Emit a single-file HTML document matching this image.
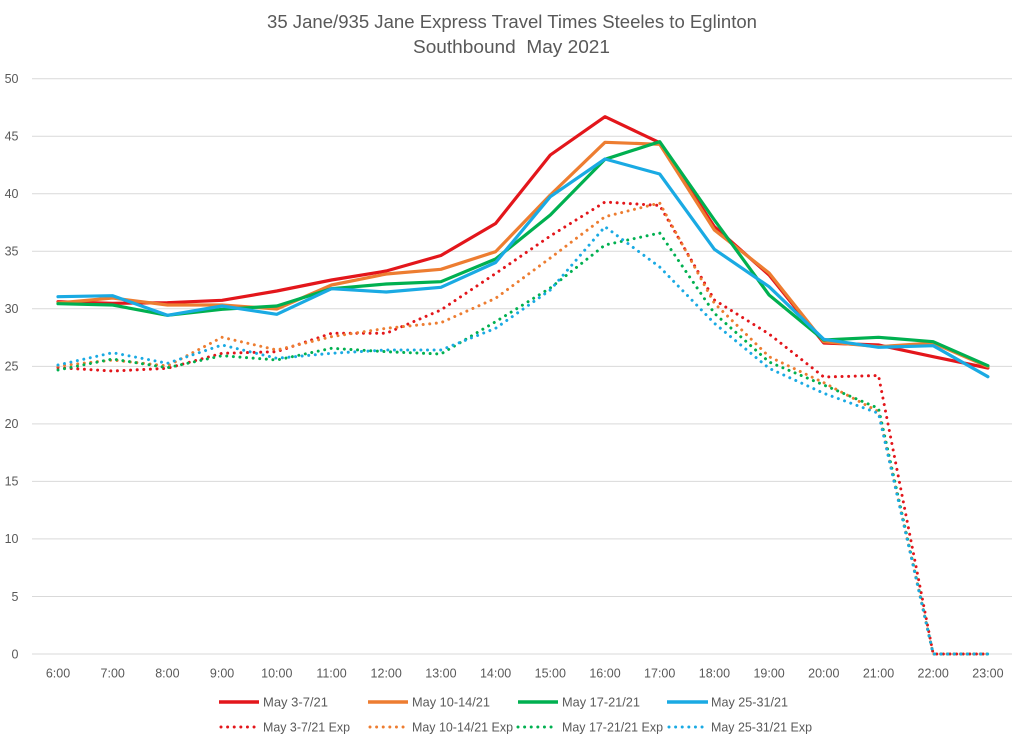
<!DOCTYPE html>
<html><head><meta charset="utf-8"><style>
html,body{margin:0;padding:0;background:#fff;}
svg{display:block;}
text{font-family:"Liberation Sans",sans-serif;fill:#595959;}
</style></head><body>
<svg width="1024" height="745" viewBox="0 0 1024 745" xmlns="http://www.w3.org/2000/svg">
<rect width="1024" height="745" fill="#fff"/>
<text x="267" y="28" font-size="18" textLength="490" lengthAdjust="spacingAndGlyphs">35 Jane/935 Jane Express Travel Times Steeles to Eglinton</text>
<text x="413" y="53" font-size="18" textLength="197" lengthAdjust="spacingAndGlyphs" xml:space="preserve">Southbound  May 2021</text>
<g stroke="#d9d9d9" stroke-width="1">
<line x1="32" y1="78.7" x2="1012" y2="78.7"/>
<line x1="32" y1="136.2" x2="1012" y2="136.2"/>
<line x1="32" y1="193.8" x2="1012" y2="193.8"/>
<line x1="32" y1="251.3" x2="1012" y2="251.3"/>
<line x1="32" y1="308.8" x2="1012" y2="308.8"/>
<line x1="32" y1="366.4" x2="1012" y2="366.4"/>
<line x1="32" y1="423.9" x2="1012" y2="423.9"/>
<line x1="32" y1="481.4" x2="1012" y2="481.4"/>
<line x1="32" y1="538.9" x2="1012" y2="538.9"/>
<line x1="32" y1="596.5" x2="1012" y2="596.5"/>
<line x1="32" y1="654" x2="1012" y2="654"/>
</g>
<g font-size="12.5" text-anchor="end">
<text x="18.5" y="83">50</text>
<text x="18.5" y="140.5">45</text>
<text x="18.5" y="198.1">40</text>
<text x="18.5" y="255.6">35</text>
<text x="18.5" y="313.1">30</text>
<text x="18.5" y="370.7">25</text>
<text x="18.5" y="428.2">20</text>
<text x="18.5" y="485.7">15</text>
<text x="18.5" y="543.2">10</text>
<text x="18.5" y="600.8">5</text>
<text x="18.5" y="658.3">0</text>
</g>
<g font-size="12.5" text-anchor="middle">
<text x="58" y="677.5">6:00</text>
<text x="112.7" y="677.5">7:00</text>
<text x="167.4" y="677.5">8:00</text>
<text x="222.1" y="677.5">9:00</text>
<text x="276.8" y="677.5">10:00</text>
<text x="331.5" y="677.5">11:00</text>
<text x="386.2" y="677.5">12:00</text>
<text x="440.9" y="677.5">13:00</text>
<text x="495.6" y="677.5">14:00</text>
<text x="550.3" y="677.5">15:00</text>
<text x="605" y="677.5">16:00</text>
<text x="659.7" y="677.5">17:00</text>
<text x="714.4" y="677.5">18:00</text>
<text x="769.1" y="677.5">19:00</text>
<text x="823.8" y="677.5">20:00</text>
<text x="878.5" y="677.5">21:00</text>
<text x="933.2" y="677.5">22:00</text>
<text x="987.9" y="677.5">23:00</text>
</g>
<g fill="none" stroke-width="3.2" stroke-linejoin="round" stroke-linecap="round">
<polyline stroke="#E3161B" points="58,301.7 112.7,303.3 167.4,302.7 222.1,300.3 276.8,291 331.5,280 386.2,271 440.9,255.5 495.6,223.5 550.3,155 605,116.7 659.7,142.7 714.4,226.7 769.1,275 823.8,343 878.5,345 933.2,356.7 987.9,368"/>
<polyline stroke="#ED7D31" points="58,303 112.7,298 167.4,305 222.1,305 276.8,309 331.5,285 386.2,274 440.9,269.3 495.6,251.7 550.3,195 605,142.3 659.7,144.3 714.4,230 769.1,273 823.8,341.7 878.5,346.7 933.2,343 987.9,366.7"/>
<polyline stroke="#00B050" points="58,303.7 112.7,305 167.4,315.3 222.1,309.3 276.8,306 331.5,288.7 386.2,284 440.9,281.7 495.6,259 550.3,215 605,159.3 659.7,141.7 714.4,220 769.1,295 823.8,340 878.5,337.3 933.2,341.7 987.9,365.7"/>
<polyline stroke="#1AAAE3" points="58,296.7 112.7,295.7 167.4,315.3 222.1,306 276.8,314.3 331.5,288.7 386.2,292 440.9,287.3 495.6,262.5 550.3,196.7 605,159 659.7,174 714.4,249.3 769.1,286.7 823.8,339.3 878.5,347.3 933.2,345.7 987.9,376.7"/>
</g>
<g fill="none" stroke-width="3" stroke-linejoin="round" stroke-linecap="round" stroke-dasharray="0.01 6.6">
<polyline stroke="#E3161B" points="58,367.7 112.7,371 167.4,368.3 222.1,353.3 276.8,351.7 331.5,333.3 386.2,333.3 440.9,310 495.6,273.5 550.3,236 605,202 659.7,205.5 714.4,300 769.1,334 823.8,377 878.5,375.5 933.2,654 987.9,654"/>
<polyline stroke="#ED7D31" points="58,366 112.7,360 167.4,366 222.1,337.3 276.8,350 331.5,336.7 386.2,328.3 440.9,322.7 495.6,298.3 550.3,258 605,216.7 659.7,203 714.4,303.3 769.1,356.7 823.8,382.7 878.5,411.7 933.2,654 987.9,654"/>
<polyline stroke="#00B050" points="58,370 112.7,359 167.4,367.7 222.1,355.7 276.8,360 331.5,348.3 386.2,351.7 440.9,354 495.6,321.7 550.3,288 605,245 659.7,233 714.4,313.3 769.1,362 823.8,385 878.5,408.3 933.2,654 987.9,654"/>
<polyline stroke="#1AAAE3" points="58,365 112.7,352.7 167.4,363.3 222.1,345 276.8,358.3 331.5,353.3 386.2,350 440.9,350 495.6,328.3 550.3,290 605,226.7 659.7,267 714.4,323.3 769.1,368.3 823.8,393.3 878.5,413.3 933.2,654 987.9,654"/>
</g>
<g stroke-width="3.5">
<line x1="219" y1="702" x2="259" y2="702" stroke="#E3161B"/>
<line x1="368" y1="702" x2="408" y2="702" stroke="#ED7D31"/>
<line x1="518" y1="702" x2="558" y2="702" stroke="#00B050"/>
<line x1="667" y1="702" x2="708" y2="702" stroke="#1AAAE3"/>
</g>
<g stroke-width="3" stroke-linecap="round" stroke-dasharray="0.01 6.6">
<line x1="221" y1="727" x2="258" y2="727" stroke="#E3161B"/>
<line x1="370" y1="727" x2="407" y2="727" stroke="#ED7D31"/>
<line x1="518" y1="727" x2="556" y2="727" stroke="#00B050"/>
<line x1="669" y1="727" x2="707" y2="727" stroke="#1AAAE3"/>
</g>
<g font-size="13">
<text x="263" y="706.5" textLength="65" lengthAdjust="spacingAndGlyphs">May 3-7/21</text>
<text x="412" y="706.5" textLength="78" lengthAdjust="spacingAndGlyphs">May 10-14/21</text>
<text x="562" y="706.5" textLength="78" lengthAdjust="spacingAndGlyphs">May 17-21/21</text>
<text x="711" y="706.5" textLength="77" lengthAdjust="spacingAndGlyphs">May 25-31/21</text>
<text x="263" y="731.5" textLength="87" lengthAdjust="spacingAndGlyphs">May 3-7/21 Exp</text>
<text x="412" y="731.5" textLength="101" lengthAdjust="spacingAndGlyphs">May 10-14/21 Exp</text>
<text x="562" y="731.5" textLength="101" lengthAdjust="spacingAndGlyphs">May 17-21/21 Exp</text>
<text x="711" y="731.5" textLength="101" lengthAdjust="spacingAndGlyphs">May 25-31/21 Exp</text>
</g>
</svg>
</body></html>
